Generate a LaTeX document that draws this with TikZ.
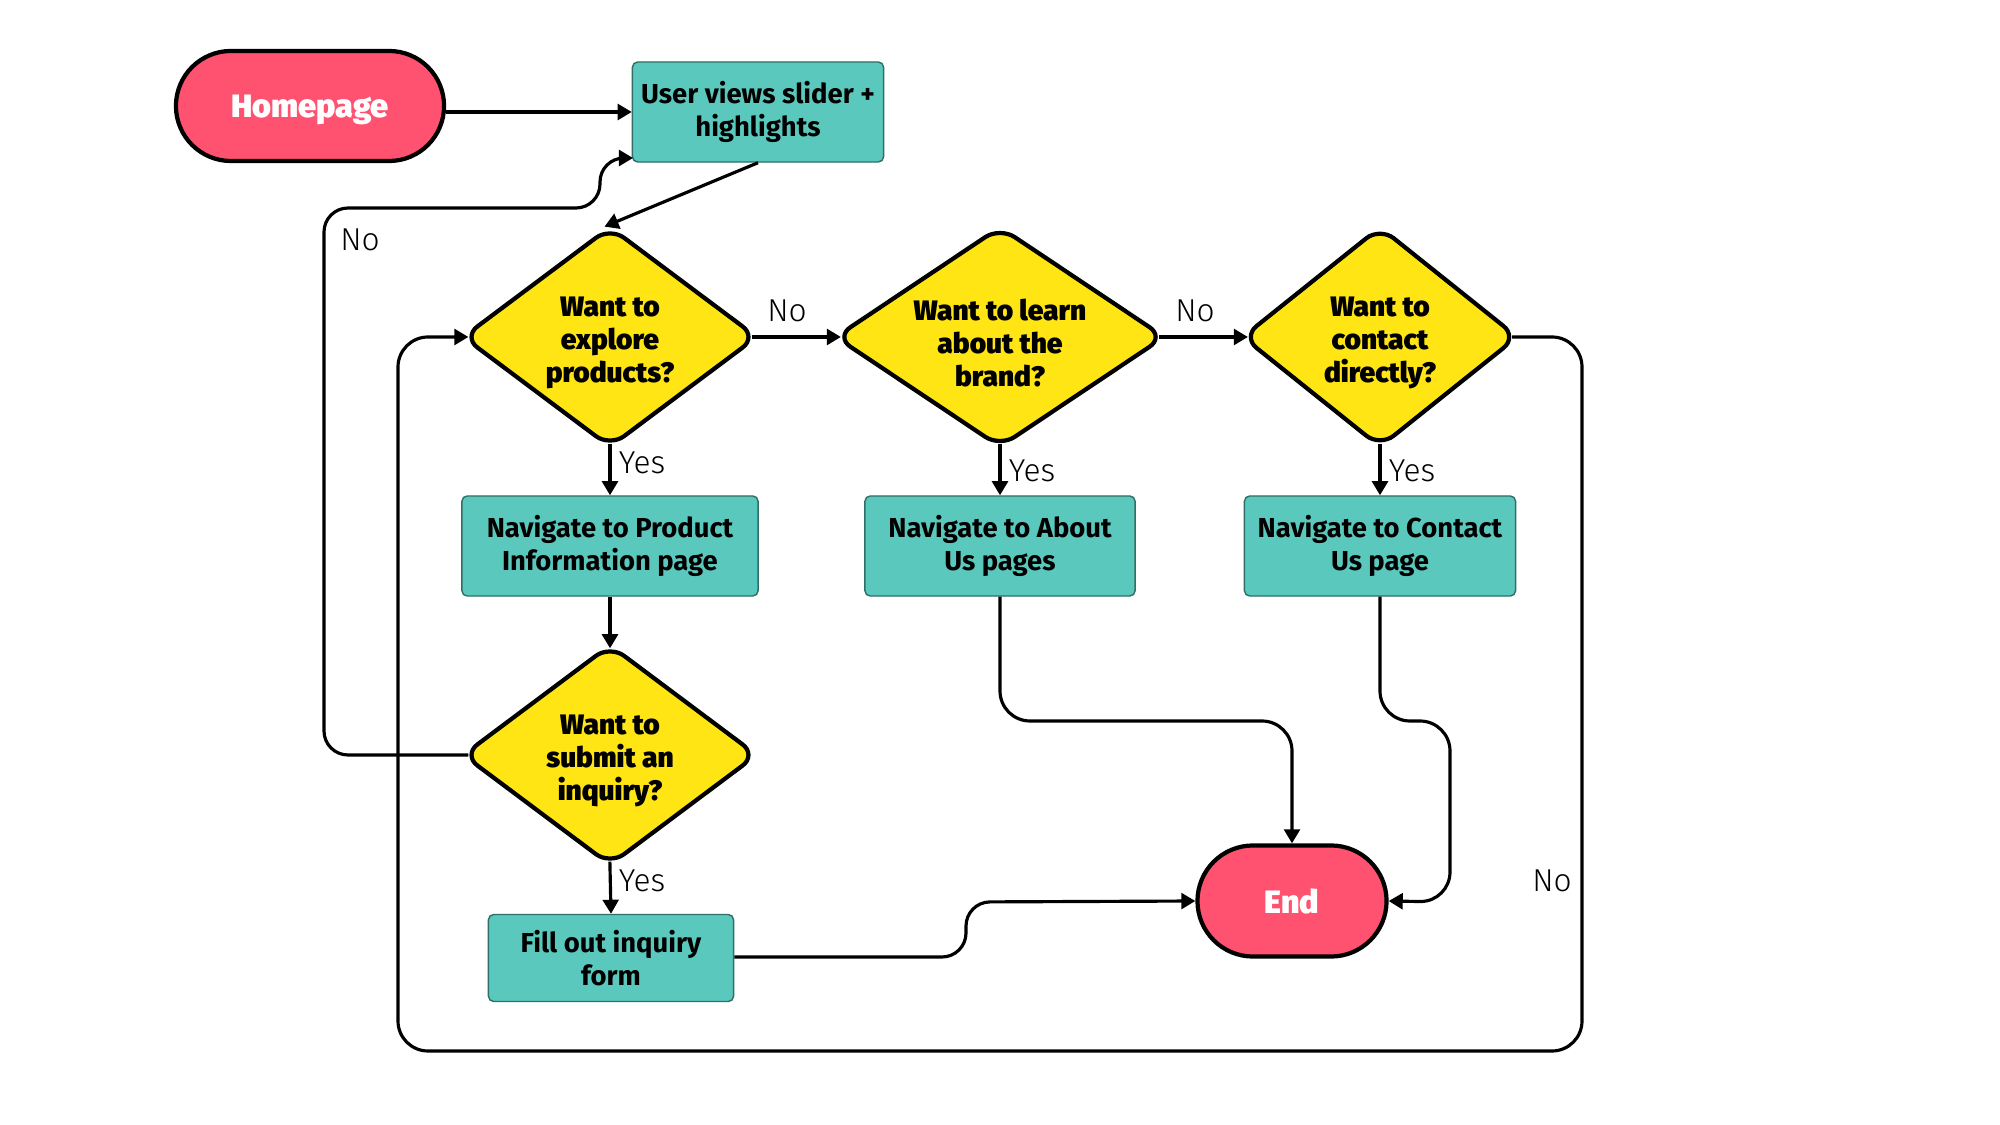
\documentclass[tikz,border=0pt]{standalone}
\usepackage{fontspec}
\setmainfont{Fira Sans}
\newfontfamily\heavyfont{Fira Sans Black}
\newfontfamily\lightfont{Fira Sans Light}
\usetikzlibrary{shapes.geometric,shapes.misc,arrows.meta}
\definecolor{tealbox}{HTML}{5BC8BD}
\definecolor{tealedge}{HTML}{2F6F68}
\definecolor{redterm}{HTML}{FF5270}
\definecolor{yellowdec}{HTML}{FFE514}
\tikzset{
  terminal/.style={draw=black, line width=1.2pt, fill=redterm, rounded rectangle, text=white,
    font=\fontsize{9.2}{11}\selectfont\heavyfont, inner sep=0pt},
  ttext/.style={text=white, font=\fontsize{9.2}{11}\selectfont\heavyfont, inner sep=0pt},
  procbox/.style={draw=tealedge, line width=0.4pt, fill=tealbox, rounded corners=1.5pt,
    align=center, font=\fontsize{7.8}{9.4}\selectfont\bfseries, inner sep=0pt},
  decision/.style={draw=black, line width=1.2pt, fill=yellowdec, diamond, rounded corners=5pt,
    inner sep=0pt},
  dtext/.style={align=center, font=\fontsize{8}{9.4}\selectfont\heavyfont, inner sep=0pt},
  conn/.style={draw=black, line width=0.9pt, rounded corners=3mm, -{Triangle[length=4pt,width=4.5pt]}},
  fromside/.style={shorten <=-2.3pt},
  toside/.style={shorten >=-2.3pt},
  fromtip/.style={shorten <=-1.7pt},
  totip/.style={shorten >=-1.7pt},
  lbl/.style={font=\fontsize{9}{10}\selectfont\lightfont, inner sep=0pt}
}
\begin{document}
\begin{tikzpicture}[x=0.01cm,y=-0.01cm]
\useasboundingbox (0,0) rectangle (2000,1125);
% nodes
\node[terminal, minimum width=2.68cm, minimum height=1.10cm] (hp) at (310,106) {};
\node[ttext] (hpt) at (310,110) {Homepage};
\node[procbox, minimum width=2.51cm, minimum height=1.00cm] (ub) at (758,112) {User views slider +\\highlights};
\node[decision, minimum width=2.95cm, minimum height=2.21cm] (d1) at (610,337) {};
\node[dtext] (d1t) at (610,343) {Want to\\explore\\products?};
\node[decision, minimum width=3.30cm, minimum height=2.21cm] (d2) at (1000,337) {};
\node[dtext] (d2t) at (1000,343) {Want to learn\\about the\\brand?};
\node[decision, minimum width=2.76cm, minimum height=2.21cm] (d3) at (1380,337) {};
\node[dtext] (d3t) at (1380,343) {Want to\\contact\\directly?};
\node[procbox, minimum width=2.96cm, minimum height=1.00cm] (pb) at (610,546) {Navigate to Product\\Information page};
\node[procbox, minimum width=2.70cm, minimum height=1.00cm] (ab) at (1000,546) {Navigate to About\\Us pages};
\node[procbox, minimum width=2.71cm, minimum height=1.00cm] (cb) at (1380,546) {Navigate to Contact\\Us page};
\node[decision, minimum width=2.95cm, minimum height=2.21cm] (d4) at (610,755) {};
\node[dtext] (d4t) at (610,761) {Want to\\submit an\\inquiry?};
\node[procbox, minimum width=2.45cm, minimum height=0.87cm] (fb) at (611,958) {Fill out inquiry\\form};
\node[terminal, minimum width=1.89cm, minimum height=1.11cm] (en) at (1292,901) {End};
% helper coordinates
\coordinate (ubin) at (633,158);
\coordinate (la) at (324,755);
\coordinate (lb) at (324,208);
\coordinate (lc) at (600,208);
\coordinate (ld) at (600,158);
\coordinate (oa) at (1582,337);
\coordinate (ob) at (1582,1051);
\coordinate (oc) at (398,1051);
\coordinate (od) at (398,337);
\coordinate (aa) at (1000,721);
\coordinate (ac) at (1292,721);
\coordinate (ca) at (1380,721);
\coordinate (cc) at (1450,721);
\coordinate (cd) at (1450,902);
\coordinate (fa) at (966,957);
\coordinate (fc) at (966,902);
% connectors
\draw[conn] (hp.east |- ub.west) -- (ub.west);
\draw[conn, totip] (ub.south) -- (d1.north);
\draw[conn, fromside, toside] (d1.east) -- (d2.west);
\draw[conn, fromside, toside] (d2.east) -- (d3.west);
\draw[conn, fromtip] (d1.south) -- (pb.north);
\draw[conn, fromtip] (d2.south) -- (ab.north);
\draw[conn, fromtip] (d3.south) -- (cb.north);
\draw[conn, totip] (pb.south) -- (d4.north);
\draw[conn, fromtip] (d4.south) -- (fb.north);
\draw[conn, fromside, rounded corners=2.4mm] (d4.west) -- (la) -- (lb) -- (lc) -- (ld) -- (ubin);
\draw[conn, fromside, toside] (d3.east) -- (oa) -- (ob) -- (oc) -- (od) -- (d1.west);
\draw[conn] (ab.south) -- (aa) -- (ac) -- (en.north);
\draw[conn] (cb.south) -- (ca) -- (cc) -- (cd) -- (en.east);
\draw[conn, rounded corners=2.4mm] (fb.east |- fa) -- (fa) -- (fc) -- (en.west);
% labels
\node[lbl] (l1) at (360,240) {No};
\node[lbl] (l2) at (787,311) {No};
\node[lbl] (l3) at (1195,311) {No};
\node[lbl] (l4) at (642,463) {Yes};
\node[lbl] (l5) at (1032,471) {Yes};
\node[lbl] (l6) at (1412,471) {Yes};
\node[lbl] (l7) at (642,881) {Yes};
\node[lbl] (l8) at (1552,881) {No};
\end{tikzpicture}
\end{document}
